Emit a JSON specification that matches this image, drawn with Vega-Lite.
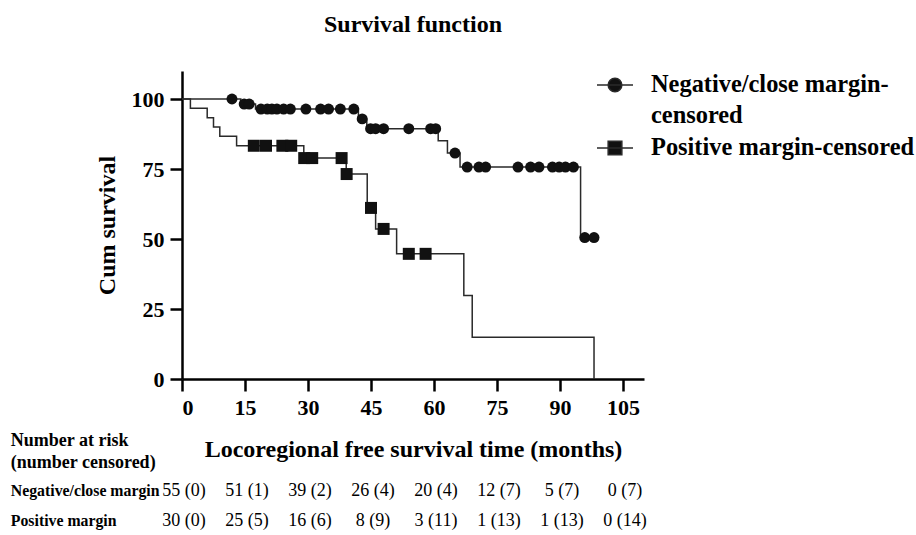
{
  "$schema": "https://vega.github.io/schema/vega-lite/v6.json",
  "padding": {"left": 10, "top": 12, "right": 0, "bottom": 0},
  "autosize": {"type": "pad"},
  "bounds": "flush",
  "spacing": 111.5,
  "config": {
    "font": "Liberation Serif",
    "view": {"stroke": null},
    "axis": {"grid": false, "domainColor": "#000000", "domainWidth": 2.5, "tickColor": "#000000", "tickWidth": 2.5, "tickSize": 12, "labelFont": "Liberation Serif", "labelFontWeight": "bold", "labelFontSize": 22, "labelColor": "#000000", "titleFont": "Liberation Serif", "titleFontWeight": "bold", "titleFontSize": 24, "titleColor": "#000000"},
    "text": {"font": "Liberation Serif"}
  },
  "datasets": {
    "curve": [
      {"group": "Negative/close margin-censored", "time": 0, "surv": 100},
      {"group": "Negative/close margin-censored", "time": 14, "surv": 98.2},
      {"group": "Negative/close margin-censored", "time": 17.5, "surv": 96.4},
      {"group": "Negative/close margin-censored", "time": 42, "surv": 92.9},
      {"group": "Negative/close margin-censored", "time": 44, "surv": 89.4},
      {"group": "Negative/close margin-censored", "time": 61, "surv": 85.1},
      {"group": "Negative/close margin-censored", "time": 63.2, "surv": 80.7},
      {"group": "Negative/close margin-censored", "time": 66.2, "surv": 75.7},
      {"group": "Negative/close margin-censored", "time": 94.9, "surv": 50.5},
      {"group": "Negative/close margin-censored", "time": 98, "surv": 50.5},
      {"group": "Positive margin-censored", "time": 0, "surv": 100},
      {"group": "Positive margin-censored", "time": 2, "surv": 96.7},
      {"group": "Positive margin-censored", "time": 6, "surv": 93.3},
      {"group": "Positive margin-censored", "time": 7.5, "surv": 90},
      {"group": "Positive margin-censored", "time": 9, "surv": 86.7},
      {"group": "Positive margin-censored", "time": 13, "surv": 83.3},
      {"group": "Positive margin-censored", "time": 29, "surv": 78.9},
      {"group": "Positive margin-censored", "time": 39.1, "surv": 73.2},
      {"group": "Positive margin-censored", "time": 44.1, "surv": 61.1},
      {"group": "Positive margin-censored", "time": 46.1, "surv": 53.6},
      {"group": "Positive margin-censored", "time": 51.1, "surv": 44.7},
      {"group": "Positive margin-censored", "time": 67.1, "surv": 29.8},
      {"group": "Positive margin-censored", "time": 69.1, "surv": 14.9},
      {"group": "Positive margin-censored", "time": 98.1, "surv": 0}
    ],
    "censor": [
      {"group": "Negative/close margin-censored", "time": 11.9, "surv": 100},
      {"group": "Negative/close margin-censored", "time": 14.8, "surv": 98.2},
      {"group": "Negative/close margin-censored", "time": 16, "surv": 98.2},
      {"group": "Negative/close margin-censored", "time": 18.8, "surv": 96.4},
      {"group": "Negative/close margin-censored", "time": 20.3, "surv": 96.4},
      {"group": "Negative/close margin-censored", "time": 21.4, "surv": 96.4},
      {"group": "Negative/close margin-censored", "time": 22.6, "surv": 96.4},
      {"group": "Negative/close margin-censored", "time": 24.2, "surv": 96.4},
      {"group": "Negative/close margin-censored", "time": 25.8, "surv": 96.4},
      {"group": "Negative/close margin-censored", "time": 29.5, "surv": 96.4},
      {"group": "Negative/close margin-censored", "time": 33, "surv": 96.4},
      {"group": "Negative/close margin-censored", "time": 34.9, "surv": 96.4},
      {"group": "Negative/close margin-censored", "time": 37.7, "surv": 96.4},
      {"group": "Negative/close margin-censored", "time": 40.9, "surv": 96.4},
      {"group": "Negative/close margin-censored", "time": 42.9, "surv": 92.9},
      {"group": "Negative/close margin-censored", "time": 44.9, "surv": 89.4},
      {"group": "Negative/close margin-censored", "time": 46.1, "surv": 89.4},
      {"group": "Negative/close margin-censored", "time": 48, "surv": 89.4},
      {"group": "Negative/close margin-censored", "time": 54, "surv": 89.4},
      {"group": "Negative/close margin-censored", "time": 59.2, "surv": 89.4},
      {"group": "Negative/close margin-censored", "time": 60.4, "surv": 89.4},
      {"group": "Negative/close margin-censored", "time": 65, "surv": 80.7},
      {"group": "Negative/close margin-censored", "time": 67.9, "surv": 75.7},
      {"group": "Negative/close margin-censored", "time": 70.7, "surv": 75.7},
      {"group": "Negative/close margin-censored", "time": 72.3, "surv": 75.7},
      {"group": "Negative/close margin-censored", "time": 80, "surv": 75.7},
      {"group": "Negative/close margin-censored", "time": 83, "surv": 75.7},
      {"group": "Negative/close margin-censored", "time": 85, "surv": 75.7},
      {"group": "Negative/close margin-censored", "time": 88.2, "surv": 75.7},
      {"group": "Negative/close margin-censored", "time": 89.8, "surv": 75.7},
      {"group": "Negative/close margin-censored", "time": 91.3, "surv": 75.7},
      {"group": "Negative/close margin-censored", "time": 93.2, "surv": 75.7},
      {"group": "Negative/close margin-censored", "time": 95.9, "surv": 50.5},
      {"group": "Negative/close margin-censored", "time": 98.1, "surv": 50.5},
      {"group": "Positive margin-censored", "time": 17.1, "surv": 83.3},
      {"group": "Positive margin-censored", "time": 20, "surv": 83.3},
      {"group": "Positive margin-censored", "time": 23.9, "surv": 83.3},
      {"group": "Positive margin-censored", "time": 26, "surv": 83.3},
      {"group": "Positive margin-censored", "time": 29.1, "surv": 78.9},
      {"group": "Positive margin-censored", "time": 31, "surv": 78.9},
      {"group": "Positive margin-censored", "time": 38, "surv": 78.9},
      {"group": "Positive margin-censored", "time": 39.2, "surv": 73.2},
      {"group": "Positive margin-censored", "time": 45, "surv": 61.1},
      {"group": "Positive margin-censored", "time": 48, "surv": 53.6},
      {"group": "Positive margin-censored", "time": 54, "surv": 44.7},
      {"group": "Positive margin-censored", "time": 58, "surv": 44.7}
    ],
    "risk": [
      {"row": "Negative/close margin", "time": 0, "label": "55 (0)"},
      {"row": "Negative/close margin", "time": 15, "label": "51 (1)"},
      {"row": "Negative/close margin", "time": 30, "label": "39 (2)"},
      {"row": "Negative/close margin", "time": 45, "label": "26 (4)"},
      {"row": "Negative/close margin", "time": 60, "label": "20 (4)"},
      {"row": "Negative/close margin", "time": 75, "label": "12 (7)"},
      {"row": "Negative/close margin", "time": 90, "label": "5 (7)"},
      {"row": "Negative/close margin", "time": 105, "label": "0 (7)"},
      {"row": "Positive margin", "time": 0, "label": "30 (0)"},
      {"row": "Positive margin", "time": 15, "label": "25 (5)"},
      {"row": "Positive margin", "time": 30, "label": "16 (6)"},
      {"row": "Positive margin", "time": 45, "label": "8 (9)"},
      {"row": "Positive margin", "time": 60, "label": "3 (11)"},
      {"row": "Positive margin", "time": 75, "label": "1 (13)"},
      {"row": "Positive margin", "time": 90, "label": "1 (13)"},
      {"row": "Positive margin", "time": 105, "label": "0 (14)"}
    ]
  },
  "vconcat": [
    {
      "width": 462,
      "height": 308,
      "title": {"text": "Survival function", "anchor": "middle", "frame": "group", "fontSize": 24, "fontWeight": "bold", "font": "Liberation Serif", "color": "#000000", "baseline": "bottom", "offset": 10.5},
      "layer": [
        {
          "data": {"name": "curve"},
          "mark": {"type": "line", "interpolate": "step-after", "strokeWidth": 1.5},
          "encoding": {
            "x": {"field": "time", "type": "quantitative", "scale": {"domain": [0, 110], "nice": false, "zero": false}, "axis": {"values": [0, 15, 30, 45, 60, 75, 90, 105], "labelPadding": 6, "title": "Locoregional free survival time (months)", "titlePadding": 19}},
            "y": {"field": "surv", "type": "quantitative", "scale": {"domain": [0, 110], "nice": false}, "axis": {"values": [0, 25, 50, 75, 100], "labelPadding": 6, "title": "Cum survival", "titlePadding": 12}},
            "color": {
              "field": "group", "type": "nominal",
              "scale": {"domain": ["Negative/close margin-censored", "Positive margin-censored"], "range": ["#2a2a2a", "#2a2a2a"]},
              "legend": {
                "orient": "none", "legendX": 414, "legendY": -5, "title": null, "padding": 0,
                "labelFont": "Liberation Serif", "labelFontSize": 24.4, "labelFontWeight": "bold", "labelColor": "#000000", "labelLimit": 0, "labelOffset": 17,
                "symbolSize": 1296, "rowPadding": 1,
                "labelExpr": "datum.label == 'Negative/close margin-censored' ? ['Negative/close margin-', 'censored'] : datum.label",
                "encode": {
                  "symbols": {"update": {
                    "shape": {"signal": "datum.value == 'Positive margin-censored' ? 'M-1,0H1M-0.38,-0.38H0.38V0.38H-0.38Z' : 'M-1,0H1M0.38,0A0.38,0.38,0,1,1,-0.38,0A0.38,0.38,0,1,1,0.38,0Z'"},
                    "fill": {"value": "#111111"}, "strokeWidth": {"value": 1.5}, "size": {"value": 1296}, "opacity": {"value": 1}
                  }},
                  "labels": {"update": {"lineHeight": {"value": 31}}}
                }
              }
            }
          }
        },
        {
          "data": {"name": "censor"},
          "transform": [{"filter": "datum.group == 'Negative/close margin-censored'"}],
          "mark": {"type": "point", "shape": "circle", "size": 120, "filled": true, "opacity": 1, "color": "#111111"},
          "encoding": {
            "x": {"field": "time", "type": "quantitative"},
            "y": {"field": "surv", "type": "quantitative"}
          }
        },
        {
          "data": {"name": "censor"},
          "transform": [{"filter": "datum.group == 'Positive margin-censored'"}],
          "mark": {"type": "point", "shape": "square", "size": 144, "filled": true, "opacity": 1, "color": "#111111"},
          "encoding": {
            "x": {"field": "time", "type": "quantitative"},
            "y": {"field": "surv", "type": "quantitative"}
          }
        }
      ]
    },
    {
      "width": 462,
      "height": 30,
      "data": {"name": "risk"},
      "mark": {"type": "text", "align": "center", "baseline": "middle", "fontSize": 18, "color": "#000000", "font": "Liberation Serif", "dx": 2},
      "encoding": {
        "x": {"field": "time", "type": "quantitative", "scale": {"domain": [0, 110], "nice": false}, "axis": null},
        "y": {"field": "row", "type": "nominal", "scale": {"type": "point", "padding": 0}, "axis": {"domain": false, "ticks": false, "tickSize": 0, "labelAlign": "left", "labelBaseline": "middle", "labelPadding": 171.7, "labelFontSize": 15.8, "labelFontWeight": "bold", "title": ["Number at risk", "(number censored)"], "titleAngle": 0, "titleAlign": "left", "titleBaseline": "top", "titleX": -171.7, "titleY": -59, "titleFontSize": 18, "titleLineHeight": 22}},
        "text": {"field": "label", "type": "nominal"}
      }
    }
  ]
}
